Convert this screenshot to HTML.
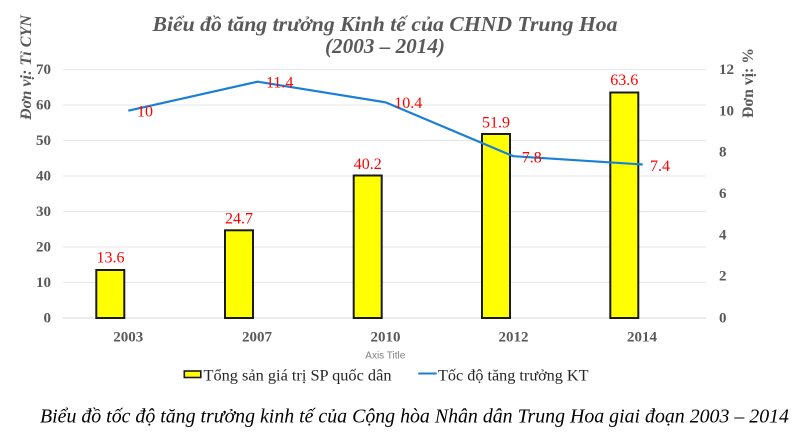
<!DOCTYPE html>
<html>
<head>
<meta charset="utf-8">
<style>
html,body{margin:0;padding:0;background:#fff;}
svg{display:block;}
</style>
</head>
<body>
<svg width="812" height="439" viewBox="0 0 812 439" xmlns="http://www.w3.org/2000/svg">
<rect x="0" y="0" width="812" height="439" fill="#ffffff"/>
<!-- Title -->
<text x="385" y="31" text-anchor="middle" font-family="Liberation Serif, serif" font-size="21" font-weight="bold" font-style="italic" fill="#595959" textLength="465" lengthAdjust="spacingAndGlyphs">Biểu đồ tăng trưởng Kinh tế của CHND Trung Hoa</text>
<text x="385" y="53" text-anchor="middle" font-family="Liberation Serif, serif" font-size="21" font-weight="bold" font-style="italic" fill="#595959" textLength="120" lengthAdjust="spacingAndGlyphs">(2003 – 2014)</text>

<!-- gridlines -->
<g stroke="#e6e6e6" stroke-width="1">
<line x1="63" y1="69.5" x2="706" y2="69.5"/>
<line x1="63" y1="105" x2="706" y2="105"/>
<line x1="63" y1="140.5" x2="706" y2="140.5"/>
<line x1="63" y1="176" x2="706" y2="176"/>
<line x1="63" y1="211.5" x2="706" y2="211.5"/>
<line x1="63" y1="247" x2="706" y2="247"/>
<line x1="63" y1="282.5" x2="706" y2="282.5"/>
</g>
<line x1="63" y1="318" x2="706" y2="318" stroke="#d9d9d9" stroke-width="1"/>

<!-- left axis labels -->
<g font-family="Liberation Serif, serif" font-size="15" font-weight="bold" fill="#595959" text-anchor="end">
<text x="51" y="74">70</text>
<text x="51" y="109.5">60</text>
<text x="51" y="145">50</text>
<text x="51" y="180.5">40</text>
<text x="51" y="216">30</text>
<text x="51" y="251.5">20</text>
<text x="51" y="287">10</text>
<text x="51" y="322.5">0</text>
</g>
<!-- right axis labels -->
<g font-family="Liberation Serif, serif" font-size="15" font-weight="bold" fill="#595959" text-anchor="start">
<text x="719" y="74">12</text>
<text x="719" y="115.5">10</text>
<text x="719" y="156.5">8</text>
<text x="719" y="198">6</text>
<text x="719" y="239.5">4</text>
<text x="719" y="280.5">2</text>
<text x="719" y="322.5">0</text>
</g>

<!-- axis titles -->
<text transform="translate(31,67.5) rotate(-90)" text-anchor="middle" font-family="Liberation Serif, serif" font-size="16" font-weight="bold" font-style="italic" fill="#595959" textLength="105" lengthAdjust="spacingAndGlyphs">Đơn vị: Tỉ CYN</text>
<text transform="translate(753,83) rotate(-90)" text-anchor="middle" font-family="Liberation Serif, serif" font-size="16" font-weight="bold" fill="#595959" textLength="70" lengthAdjust="spacingAndGlyphs">Đơn vị: %</text>

<!-- bars -->
<g fill="#ffff00" stroke="#1a1a1a" stroke-width="2">
<rect x="96.3" y="270" width="28" height="48"/>
<rect x="225" y="230.3" width="28" height="87.7"/>
<rect x="353.7" y="175.5" width="28" height="142.5"/>
<rect x="482" y="134" width="28" height="184"/>
<rect x="610.3" y="92.5" width="28" height="225.5"/>
</g>

<!-- line -->
<polyline points="128.3,110.7 257.7,81.7 385.7,102.4 513.3,156.2 642.7,164.5" fill="none" stroke="#1c7fd6" stroke-width="2.2" stroke-linejoin="round"/>

<!-- bar data labels -->
<g font-family="Liberation Serif, serif" font-size="16" fill="#ff0000" text-anchor="middle">
<text x="110.5" y="262.7">13.6</text>
<text x="239" y="223.5">24.7</text>
<text x="367.7" y="168.8">40.2</text>
<text x="496" y="127.3">51.9</text>
<text x="624.3" y="85">63.6</text>
</g>
<!-- line data labels -->
<g font-family="Liberation Serif, serif" font-size="16" fill="#ff0000" text-anchor="start">
<text x="137" y="116.7">10</text>
<text x="266" y="87.5">11.4</text>
<text x="394.3" y="108.2">10.4</text>
<text x="521.7" y="162.5">7.8</text>
<text x="650" y="171">7.4</text>
</g>

<!-- category labels -->
<g font-family="Liberation Serif, serif" font-size="15" font-weight="bold" fill="#595959" text-anchor="middle">
<text x="128.3" y="341.5">2003</text>
<text x="257" y="341.5">2007</text>
<text x="385.5" y="341.5">2010</text>
<text x="513.5" y="341.5">2012</text>
<text x="642" y="341.5">2014</text>
</g>
<text x="385.3" y="358.5" text-anchor="middle" font-family="Liberation Sans, sans-serif" font-size="10" fill="#7f7f7f">Axis Title</text>

<!-- legend -->
<rect x="184.3" y="371" width="16.5" height="6.5" fill="#ffff00" stroke="#1a1a1a" stroke-width="1.6"/>
<text x="203.5" y="380.7" font-family="Liberation Serif, serif" font-size="16" fill="#262626" textLength="188" lengthAdjust="spacingAndGlyphs">Tổng sản giá trị SP quốc dân</text>
<line x1="418.3" y1="373.5" x2="436.7" y2="373.5" stroke="#1c7fd6" stroke-width="2"/>
<text x="438" y="380.7" font-family="Liberation Serif, serif" font-size="16" fill="#262626" textLength="150.5" lengthAdjust="spacingAndGlyphs">Tốc độ tăng trưởng KT</text>

<!-- caption -->
<text x="40" y="422.7" font-family="Liberation Serif, serif" font-size="20" font-style="italic" fill="#000000" textLength="749" lengthAdjust="spacingAndGlyphs">Biểu đồ tốc độ tăng trưởng kinh tế của Cộng hòa Nhân dân Trung Hoa giai đoạn 2003 – 2014</text>
</svg>
</body>
</html>
